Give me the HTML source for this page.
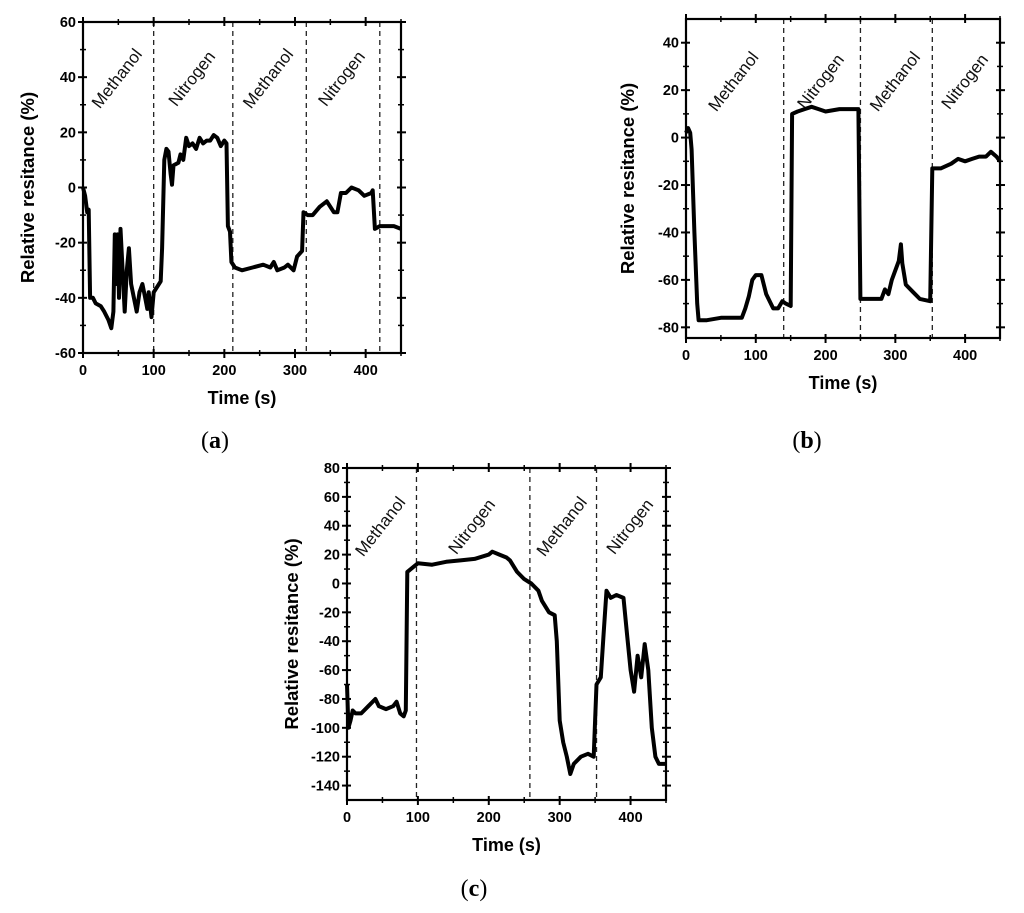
<!DOCTYPE html>
<html><head><meta charset="utf-8"><style>
html,body{margin:0;padding:0;background:#fff;}
svg{display:block;font-family:"Liberation Sans",Arial,sans-serif;}
</style></head><body>
<svg id="fig" width="1024" height="913" viewBox="0 0 1024 913"></svg>
<script>
const aTimes=[0,3,6,8,10,14,18,25,30,36,40,43,45,47,49,51,53,56,59,62,65,68,72,76,80,84,88,91,93,97,100,105,110,112,115,118,121,124,126,128,135,138,142,146,150,155,160,165,170,175,180,185,190,195,200,203,205,208,210,215,225,240,255,265,270,275,285,290,298,303,310,312,318,325,335,345,355,360,365,372,380,390,398,408,410,413,420,430,440,450];
const aValues=[0,-3,-9,-8,-40,-40,-42,-43,-45,-48,-51,-45,-17,-35,-17,-40,-15,-30,-45,-30,-22,-35,-40,-45,-38,-35,-40,-44,-38,-47,-38,-36,-34,-22,10,14,13,5,1,8,9,12,10,18,15,16,14,18,16,17,17,19,18,15,17,16,-14,-16,-27,-29,-30,-29,-28,-29,-27,-30,-29,-28,-30,-25,-23,-9,-10,-10,-7,-5,-9,-9,-2,-2,0,-1,-3,-2,-1,-15,-14,-14,-14,-15];
const bTimes=[0,3,6,8,12,16,18,30,50,70,80,85,90,95,100,108,115,125,132,138,143,150,152,160,170,180,190,200,220,240,247,250,265,280,285,290,295,300,305,308,310,315,325,335,350,353,365,380,390,400,410,420,430,437,445,450];
const bValues=[2,4,2,-5,-40,-70,-77,-77,-76,-76,-76,-72,-67,-60,-58,-58,-66,-72,-72,-69,-70,-71,10,11,12,13,12,11,12,12,12,-68,-68,-68,-64,-66,-60,-56,-52,-45,-53,-62,-65,-68,-69,-13,-13,-11,-9,-10,-9,-8,-8,-6,-8,-10];
const cTimes=[0,2,5,8,12,20,30,40,45,55,65,70,75,80,83,85,95,100,120,140,160,180,200,205,215,225,230,240,250,260,270,275,285,293,296,300,305,310,315,320,330,340,348,352,358,362,366,372,380,390,395,400,405,410,415,420,425,430,435,440,450];
const cValues=[-70,-100,-95,-88,-90,-90,-85,-80,-85,-87,-85,-82,-90,-92,-88,8,12,14,13,15,16,17,20,22,20,18,16,8,3,0,-5,-12,-20,-22,-40,-95,-110,-120,-132,-125,-120,-118,-120,-70,-65,-35,-5,-10,-8,-10,-35,-60,-75,-50,-65,-42,-60,-100,-120,-125,-125];
const aYTicks=[-60,-40,-20,0,20,40,60];
const bYTicks=[-80,-60,-40,-20,0,20,40];
const cYTicks=[-140,-120,-100,-80,-60,-40,-20,0,20,40,60,80];
const xTicks=[0,100,200,300,400];
const aDividers=[100,212,316,420];
const bDividers=[140,250,353];
const cDividers=[98,258,352];
const aRegions=["Methanol","Nitrogen","Methanol","Nitrogen"];
const bRegions=["Methanol","Nitrogen","Methanol","Nitrogen"];
const cRegions=["Methanol","Nitrogen","Methanol","Nitrogen"];

const NS="http://www.w3.org/2000/svg";
const svg=document.getElementById('fig');
function mk(tag,attrs,parent){const e=document.createElementNS(NS,tag);for(const k in attrs)e.setAttribute(k,attrs[k]);(parent||svg).appendChild(e);return e;}

function chart(cfg){
  const g=mk('g',{});
  
  
  const X=t=>cfg.x0+(t-0)/(450-0)*(cfg.x1-cfg.x0);
  const Y=v=>cfg.y1-(v-cfg.ymin)/(cfg.ymax-cfg.ymin)*(cfg.y1-cfg.y0);
  cfg.div.forEach((d,i)=>{const l=mk('line',{x1:X(d),x2:X(d),y1:cfg.y0,y2:cfg.y1,stroke:'#222','stroke-width':1.3,'stroke-dasharray':'5,4'},g);
    
    });
  const bounds=[0].concat(cfg.div).concat([450]);
  cfg.reg.forEach((r,i)=>{const cx=(X(bounds[i])+X(bounds[i+1]))/2+(cfg.lx||0);const cy=cfg.ly;
    const t=mk('text',{x:cx,y:cy,'font-size':17,'text-anchor':'middle',transform:`rotate(-52 ${cx} ${cy})`,fill:'#111'},g);t.textContent=r;
    
    });
  let d='';cfg.t.forEach((t,i)=>{d+=(i?'L':'M')+X(t).toFixed(1)+','+Y(cfg.v[i]).toFixed(1);});
  const p=mk('path',{d:d,fill:'none',stroke:'#000','stroke-width':4,'stroke-linejoin':'round'},g);
  
  
  const f=mk('rect',{x:cfg.x0,y:cfg.y0,width:cfg.x1-cfg.x0,height:cfg.y1-cfg.y0,fill:'none',stroke:'#000','stroke-width':2.2},g);
  
  
  cfg.yt.forEach((v,i)=>{const y=Y(v);
    mk('line',{x1:cfg.x0-5,x2:cfg.x0+4,y1:y,y2:y,stroke:'#000','stroke-width':2},g);
    mk('line',{x1:cfg.x1-4,x2:cfg.x1+5,y1:y,y2:y,stroke:'#000','stroke-width':2},g);
    if(i<cfg.yt.length-1){const ym=Y(v+(cfg.yt[1]-cfg.yt[0])/2);
      mk('line',{x1:cfg.x0-3,x2:cfg.x0+3,y1:ym,y2:ym,stroke:'#000','stroke-width':1.5},g);
      mk('line',{x1:cfg.x1-3,x2:cfg.x1+3,y1:ym,y2:ym,stroke:'#000','stroke-width':1.5},g);}
    const t=mk('text',{x:cfg.x0-7,y:y+5,'font-size':14.5,'font-weight':'bold','text-anchor':'end'},g);t.textContent=v;
    
    });
  for(let v=0;v<=450;v+=50){const x=X(v);const maj=v%100===0;
    mk('line',{x1:x,x2:x,y1:cfg.y1-(maj?4:3),y2:cfg.y1+(maj?5:3),stroke:'#000','stroke-width':maj?2:1.5},g);
    mk('line',{x1:x,x2:x,y1:cfg.y0-(maj?5:3),y2:cfg.y0+(maj?4:3),stroke:'#000','stroke-width':maj?2:1.5},g);}
  xTicks.forEach(v=>{const t=mk('text',{x:X(v),y:cfg.y1+22,'font-size':14.5,'font-weight':'bold','text-anchor':'middle'},g);t.textContent=v;
    
    });
  const xt=mk('text',{x:(cfg.x0+cfg.x1)/2,y:cfg.y1+51,'font-size':18,'font-weight':'bold','text-anchor':'middle'},g);xt.textContent='Time (s)';
  
  
  const yx=cfg.yTitleX,yy=(cfg.y0+cfg.y1)/2;
  const yt=mk('text',{x:yx,y:yy,'font-size':18.5,'font-weight':'bold','text-anchor':'middle',transform:`rotate(-90 ${yx} ${yy})`},g);yt.textContent='Relative resitance (%)';
  
  
  const lb=mk('text',{x:cfg.labX,y:cfg.labY,'font-size':24,'font-family':'"Liberation Serif",serif','text-anchor':'middle'},g);
  lb.innerHTML='(<tspan font-weight="bold">'+cfg.id+'</tspan>)';
  
  
}
chart({id:'a',x0:83,x1:401,y0:22,y1:353,ymin:-60,ymax:60,t:aTimes,v:aValues,yt:aYTicks,div:aDividers,reg:aRegions,ly:82,lx:3,yTitleX:34,labX:215,labY:448});
chart({id:'b',x0:686,x1:1000,y0:19,y1:338,ymin:-84.5,ymax:50,t:bTimes,v:bValues,yt:bYTicks,div:bDividers,reg:bRegions,ly:85,lx:3,yTitleX:634,labX:807,labY:448});
chart({id:'c',x0:347,x1:666,y0:468,y1:800,ymin:-150,ymax:80,t:cTimes,v:cValues,yt:cYTicks,div:cDividers,reg:cRegions,ly:530,lx:3,yTitleX:298,labX:474,labY:896});
</script>
</body></html>
